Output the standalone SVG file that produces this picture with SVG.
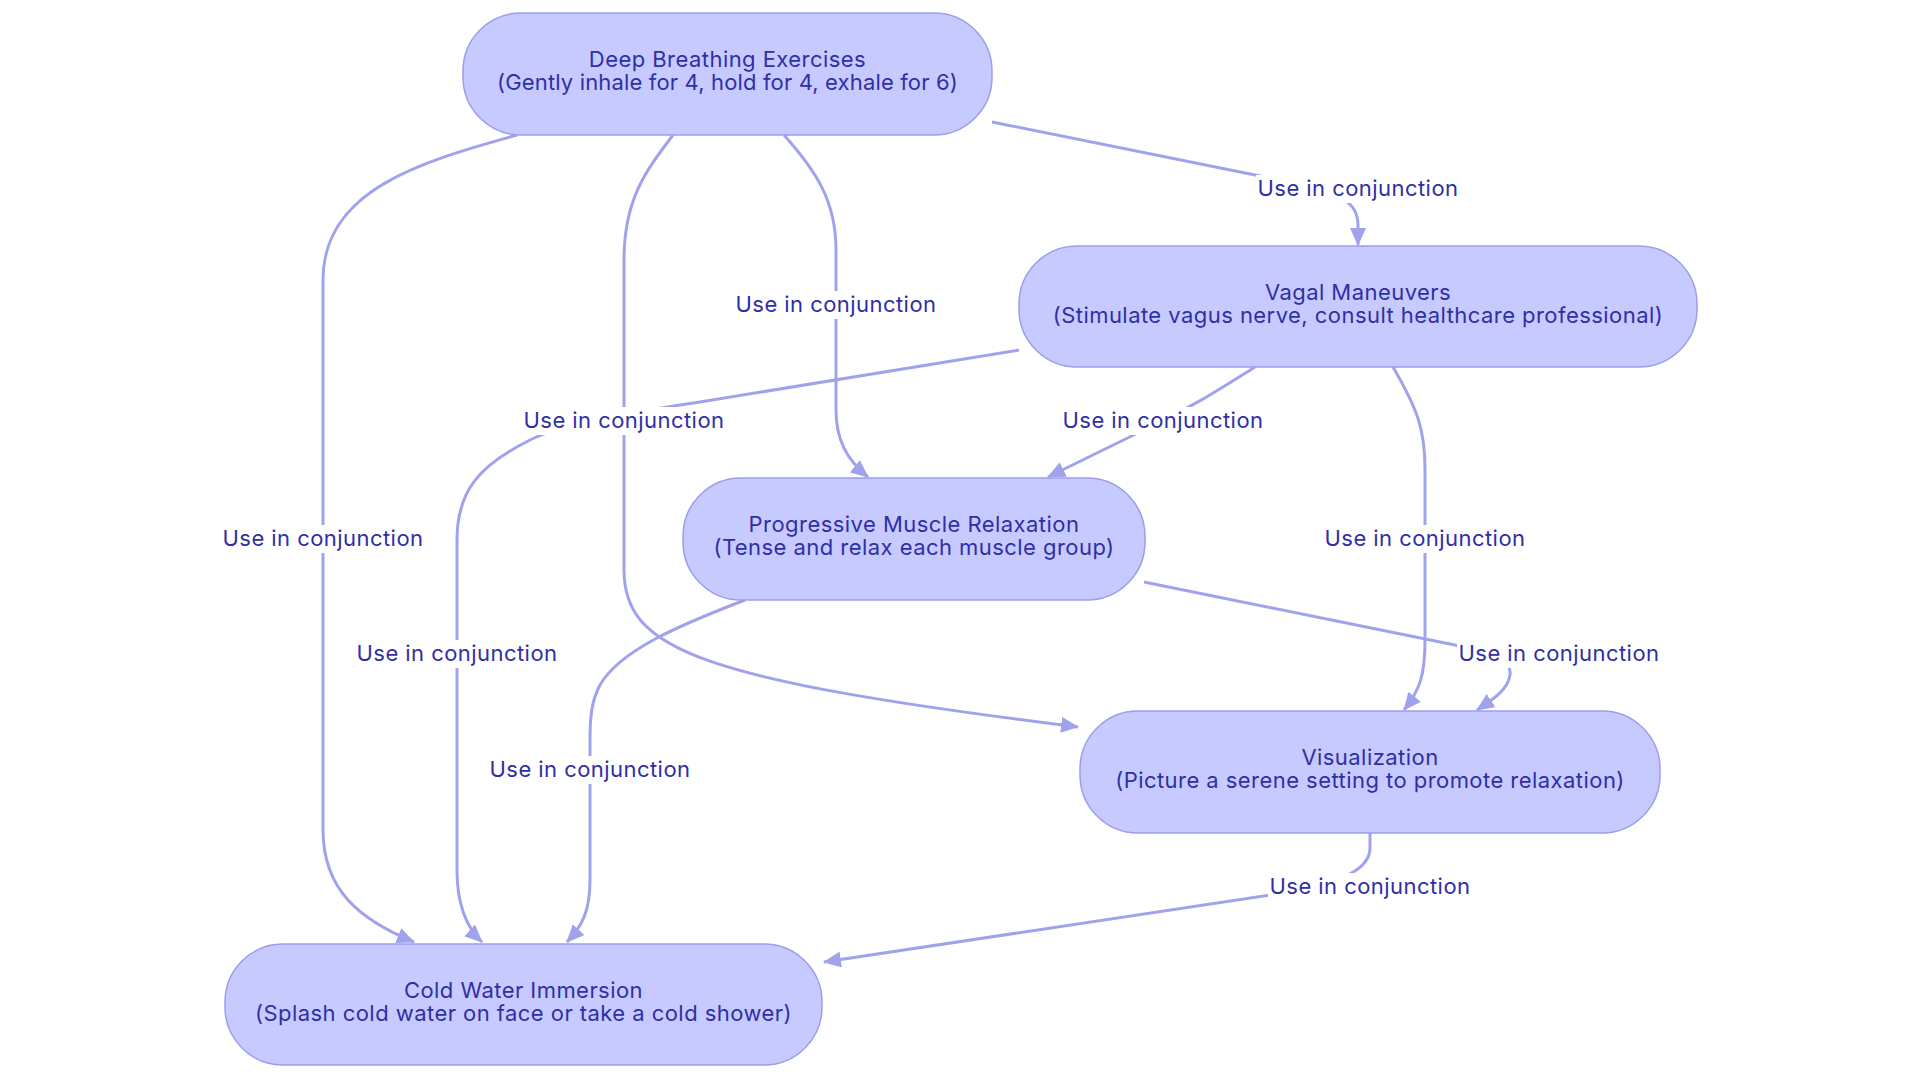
<svg xmlns="http://www.w3.org/2000/svg" width="1920" height="1083" viewBox="0 0 1920 1083">
<style>
.node rect{fill:#c7cafe;stroke:#9a9eea;stroke-width:1.5}
.node text{font-family:Inter,"Open Sans",sans-serif;font-size:22px;letter-spacing:0.45px;fill:#2f2fa6;text-anchor:middle}
.edge{fill:none;stroke:#a0a3ec;stroke-width:3}
.lbl rect{fill:#ffffff}
.lbl text{font-family:Inter,"Open Sans",sans-serif;font-size:22px;letter-spacing:0.45px;fill:#2f2fa6;text-anchor:middle}
</style>
<defs>
<marker id="arr" viewBox="0 0 18 16" refX="17" refY="8" markerWidth="18" markerHeight="16" markerUnits="userSpaceOnUse" orient="auto">
<path d="M0,0 L18,8 L0,16 z" fill="#a0a3ec"/>
</marker>
</defs>
<rect width="1920" height="1083" fill="#ffffff"/>
<g id="connectors">
<path class="edge" marker-end="url(#arr)" d="M992,122 L1270,178 C1340,192 1358,200 1358,226 L1358,245"/>
<path class="edge" marker-end="url(#arr)" d="M784,135 C815,170 836,200 836,250 L836,410 C836,440 847,460 868,477"/>
<path class="edge" marker-end="url(#arr)" d="M673,135 C645,172 624,200 624,260 L624,570 C624,650 700,680 1078,727"/>
<path class="edge" marker-end="url(#arr)" d="M517,135 C420,162 323,190 323,280 L323,830 C323,890 360,920 414,942"/>
<path class="edge" marker-end="url(#arr)" d="M1255,367 C1215,392 1190,408 1150,427 L1048,477"/>
<path class="edge" marker-end="url(#arr)" d="M1393,367 C1418,410 1425,430 1425,470 L1425,640 C1425,675 1420,690 1404,710"/>
<path class="edge" marker-end="url(#arr)" d="M1019,350 L700,402 C620,414 560,425 530,440 C480,465 457,490 457,540 L457,870 C457,905 467,928 482,942"/>
<path class="edge" marker-end="url(#arr)" d="M1144,582 L1450,644 C1500,654 1512,662 1510,675 C1508,690 1492,700 1477,710"/>
<path class="edge" marker-end="url(#arr)" d="M745,600 C680,625 620,650 600,685 C592,700 590,715 590,740 L590,880 C590,910 583,925 567,942"/>
<path class="edge" marker-end="url(#arr)" d="M1370,833 L1370,848 C1370,870 1340,882 1290,892 L824,962"/>
</g>
<g id="edge-labels">
<g class="lbl"><rect x="1256" y="175" width="204" height="28"/><text x="1358" y="196">Use in conjunction</text></g>
<g class="lbl"><rect x="734" y="291" width="204" height="28"/><text x="836" y="312">Use in conjunction</text></g>
<g class="lbl"><rect x="522" y="407" width="204" height="28"/><text x="624" y="428">Use in conjunction</text></g>
<g class="lbl"><rect x="1061" y="407" width="204" height="28"/><text x="1163" y="428">Use in conjunction</text></g>
<g class="lbl"><rect x="221" y="525" width="204" height="28"/><text x="323" y="546">Use in conjunction</text></g>
<g class="lbl"><rect x="1323" y="525" width="204" height="28"/><text x="1425" y="546">Use in conjunction</text></g>
<g class="lbl"><rect x="355" y="640" width="204" height="28"/><text x="457" y="661">Use in conjunction</text></g>
<g class="lbl"><rect x="1457" y="640" width="204" height="28"/><text x="1559" y="661">Use in conjunction</text></g>
<g class="lbl"><rect x="488" y="756" width="204" height="28"/><text x="590" y="777">Use in conjunction</text></g>
<g class="lbl"><rect x="1268" y="873" width="204" height="28"/><text x="1370" y="894">Use in conjunction</text></g>
</g>
<g id="node-deep-breathing" class="node">
<rect x="463" y="13" width="529" height="122" rx="58" ry="58"/>
<text x="727.5" y="67">Deep Breathing Exercises</text>
<text x="727.5" y="90" style="letter-spacing:0.15px">(Gently inhale for 4, hold for 4, exhale for 6)</text>
</g>
<g id="node-vagal" class="node">
<rect x="1019" y="246" width="678" height="121" rx="58" ry="58"/>
<text x="1358" y="300">Vagal Maneuvers</text>
<text x="1358" y="323">(Stimulate vagus nerve, consult healthcare professional)</text>
</g>
<g id="node-pmr" class="node">
<rect x="683" y="478" width="462" height="122" rx="58" ry="58"/>
<text x="914" y="532">Progressive Muscle Relaxation</text>
<text x="914" y="555">(Tense and relax each muscle group)</text>
</g>
<g id="node-visualization" class="node">
<rect x="1080" y="711" width="580" height="122" rx="58" ry="58"/>
<text x="1370" y="765">Visualization</text>
<text x="1370" y="788">(Picture a serene setting to promote relaxation)</text>
</g>
<g id="node-cold-water" class="node">
<rect x="225" y="944" width="597" height="121" rx="58" ry="58"/>
<text x="523.5" y="998">Cold Water Immersion</text>
<text x="523.5" y="1021">(Splash cold water on face or take a cold shower)</text>
</g>
</svg>
